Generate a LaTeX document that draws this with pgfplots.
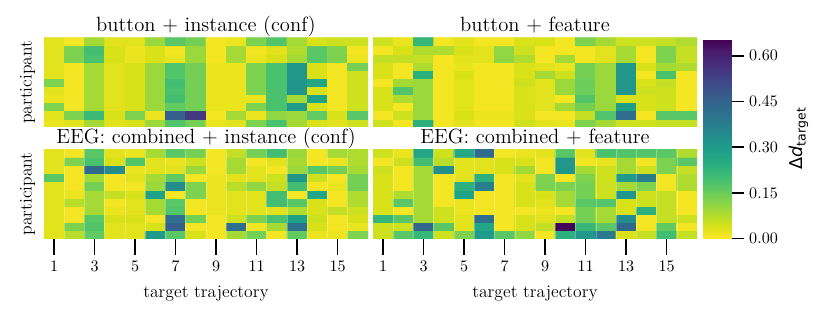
\documentclass[border=0pt]{standalone}
\usepackage{fontspec}
\usepackage{pgfplots}
\pgfplotsset{compat=1.18}
\newfontfamily\djv{DejaVu Sans}
\pgfplotsset{
 colormap={viridisr}{rgb255=(253,231,37) rgb255=(216,226,25) rgb255=(173,220,48) rgb255=(132,212,75) rgb255=(94,201,98) rgb255=(63,188,115) rgb255=(40,174,128) rgb255=(31,160,136) rgb255=(33,145,140) rgb255=(39,128,142) rgb255=(44,114,142) rgb255=(51,99,141) rgb255=(59,82,139) rgb255=(66,64,134) rgb255=(71,45,123) rgb255=(72,27,109) rgb255=(68,1,84)},
 hm/.style={
   scale only axis, width=220.32pt, height=60.7pt,
   xmin=0.5, xmax=16.5, ymin=0.5, ymax=11.5,
   axis line style={draw=none},
   xtick=\empty, ytick=\empty,
   minor xtick={1.5,2.5,...,15.5}, minor ytick={1.5,2.5,...,10.5},
   xminorgrids, yminorgrids, minor tick length=0pt,
   minor grid style={white, opacity=0.3, line width=0.35pt},
   axis on top,
   colormap name=viridisr, point meta min=0, point meta max=0.655,
   every axis title/.style={at={(0.5,1)}, anchor=base, yshift=4.1pt, font=\fontsize{14}{16}\selectfont},
   ylabel={participant},
   ylabel style={font=\fontsize{12}{14}\selectfont, at={(axis description cs:-0.0504,0.5)}, anchor=center},
   tick style={black, line width=1.15pt},
   major tick length=11pt,
   tick align=outside,
   tick label style={font=\fontsize{11}{13}\selectfont},
 },
 hmb/.style={xtick={1,3,...,15}, xtick pos=left,
   xticklabel shift=1pt,
   xlabel={target trajectory},
   xlabel style={font=\fontsize{12}{14}\selectfont, at={(axis description cs:0.5,0)}, anchor=center, yshift=-37.5pt}},
}
\begin{document}
\begin{tikzpicture}
% ---------- button + instance (conf) ----------
\begin{axis}[hm, at={(29.92pt,130.56pt)}, anchor=south west, title={button + instance (conf)}]
\addplot[matrix plot*, mesh/cols=16, point meta=explicit] coordinates {
(1,1)[0.02] (2,1)[0.03] (3,1)[0.09] (4,1)[0.03] (5,1)[0.04] (6,1)[0.10] (7,1)[0.18] (8,1)[0.14] (9,1)[0.02] (10,1)[0.03] (11,1)[0.13] (12,1)[0.19] (13,1)[0.09] (14,1)[0.04] (15,1)[0.03] (16,1)[0.05]
(1,2)[0.03] (2,2)[0.13] (3,2)[0.21] (4,2)[0.04] (5,2)[0.13] (6,2)[0.02] (7,2)[0.46] (8,2)[0.55] (9,2)[0.01] (10,2)[0.09] (11,2)[0.02] (12,2)[0.11] (13,2)[0.10] (14,2)[0.16] (15,2)[0.04] (16,2)[0.17]
(1,3)[0.13] (2,3)[0.01] (3,3)[0.09] (4,3)[0.03] (5,3)[0.04] (6,3)[0.10] (7,3)[0.16] (8,3)[0.14] (9,3)[0.02] (10,3)[0.02] (11,3)[0.13] (12,3)[0.19] (13,3)[0.30] (14,3)[0.04] (15,3)[0.01] (16,3)[0.05]
(1,4)[0.02] (2,4)[0.01] (3,4)[0.09] (4,4)[0.03] (5,4)[0.04] (6,4)[0.10] (7,4)[0.20] (8,4)[0.14] (9,4)[0.02] (10,4)[0.02] (11,4)[0.02] (12,4)[0.19] (13,4)[0.09] (14,4)[0.28] (15,4)[0.01] (16,4)[0.05]
(1,5)[0.03] (2,5)[0.01] (3,5)[0.09] (4,5)[0.03] (5,5)[0.04] (6,5)[0.10] (7,5)[0.19] (8,5)[0.14] (9,5)[0.02] (10,5)[0.02] (11,5)[0.13] (12,5)[0.19] (13,5)[0.32] (14,5)[0.04] (15,5)[0.01] (16,5)[0.05]
(1,6)[0.13] (2,6)[0.01] (3,6)[0.09] (4,6)[0.03] (5,6)[0.04] (6,6)[0.10] (7,6)[0.20] (8,6)[0.14] (9,6)[0.02] (10,6)[0.02] (11,6)[0.13] (12,6)[0.19] (13,6)[0.32] (14,6)[0.27] (15,6)[0.01] (16,6)[0.05]
(1,7)[0.03] (2,7)[0.01] (3,7)[0.09] (4,7)[0.03] (5,7)[0.04] (6,7)[0.10] (7,7)[0.18] (8,7)[0.14] (9,7)[0.02] (10,7)[0.02] (11,7)[0.13] (12,7)[0.19] (13,7)[0.31] (14,7)[0.04] (15,7)[0.01] (16,7)[0.05]
(1,8)[0.03] (2,8)[0.01] (3,8)[0.09] (4,8)[0.03] (5,8)[0.04] (6,8)[0.10] (7,8)[0.18] (8,8)[0.14] (9,8)[0.02] (10,8)[0.02] (11,8)[0.13] (12,8)[0.19] (13,8)[0.31] (14,8)[0.04] (15,8)[0.01] (16,8)[0.14]
(1,9)[0.03] (2,9)[0.13] (3,9)[0.19] (4,9)[0.04] (5,9)[0.02] (6,9)[0.04] (7,9)[0.02] (8,9)[0.10] (9,9)[0.01] (10,9)[0.09] (11,9)[0.02] (12,9)[0.04] (13,9)[0.09] (14,9)[0.17] (15,9)[0.13] (16,9)[0.02]
(1,10)[0.03] (2,10)[0.13] (3,10)[0.20] (4,10)[0.04] (5,10)[0.02] (6,10)[0.04] (7,10)[0.01] (8,10)[0.10] (9,10)[0.01] (10,10)[0.09] (11,10)[0.01] (12,10)[0.03] (13,10)[0.08] (14,10)[0.17] (15,10)[0.13] (16,10)[0.01]
(1,11)[0.03] (2,11)[0.01] (3,11)[0.09] (4,11)[0.03] (5,11)[0.03] (6,11)[0.10] (7,11)[0.17] (8,11)[0.14] (9,11)[0.01] (10,11)[0.02] (11,11)[0.13] (12,11)[0.18] (13,11)[0.09] (14,11)[0.04] (15,11)[0.05] (16,11)[0.05]
};
\end{axis}
% ---------- button + feature ----------
\begin{axis}[hm, at={(253.64pt,130.56pt)}, anchor=south west, title={button + feature}, ylabel={}]
\addplot[matrix plot*, mesh/cols=16, point meta=explicit] coordinates {
(1,1)[0.05] (2,1)[0.01] (3,1)[0.24] (4,1)[0.01] (5,1)[0.03] (6,1)[0.01] (7,1)[0.01] (8,1)[0.05] (9,1)[0.03] (10,1)[0.02] (11,1)[0.13] (12,1)[0.09] (13,1)[0.05] (14,1)[0.05] (15,1)[0.06] (16,1)[0.06]
(1,2)[0.01] (2,2)[0.05] (3,2)[0.10] (4,2)[0.01] (5,2)[0.04] (6,2)[0.02] (7,2)[0.02] (8,2)[0.04] (9,2)[0.01] (10,2)[0.01] (11,2)[0.06] (12,2)[0.18] (13,2)[0.42] (14,2)[0.01] (15,2)[0.17] (16,2)[0.17]
(1,3)[0.04] (2,3)[0.01] (3,3)[0.10] (4,3)[0.01] (5,3)[0.03] (6,3)[0.01] (7,3)[0.01] (8,3)[0.04] (9,3)[0.03] (10,3)[0.09] (11,3)[0.14] (12,3)[0.10] (13,3)[0.29] (14,3)[0.04] (15,3)[0.05] (16,3)[0.01]
(1,4)[0.04] (2,4)[0.08] (3,4)[0.10] (4,4)[0.01] (5,4)[0.03] (6,4)[0.01] (7,4)[0.01] (8,4)[0.04] (9,4)[0.03] (10,4)[0.01] (11,4)[0.18] (12,4)[0.10] (13,4)[0.04] (14,4)[0.04] (15,4)[0.05] (16,4)[0.01]
(1,5)[0.04] (2,5)[0.18] (3,5)[0.10] (4,5)[0.01] (5,5)[0.03] (6,5)[0.01] (7,5)[0.01] (8,5)[0.04] (9,5)[0.03] (10,5)[0.10] (11,5)[0.15] (12,5)[0.10] (13,5)[0.31] (14,5)[0.05] (15,5)[0.05] (16,5)[0.01]
(1,6)[0.01] (2,6)[0.09] (3,6)[0.10] (4,6)[0.01] (5,6)[0.03] (6,6)[0.01] (7,6)[0.01] (8,6)[0.05] (9,6)[0.03] (10,6)[0.10] (11,6)[0.15] (12,6)[0.10] (13,6)[0.31] (14,6)[0.04] (15,6)[0.06] (16,6)[0.01]
(1,7)[0.04] (2,7)[0.01] (3,7)[0.24] (4,7)[0.01] (5,7)[0.04] (6,7)[0.01] (7,7)[0.01] (8,7)[0.04] (9,7)[0.09] (10,7)[0.05] (11,7)[0.14] (12,7)[0.10] (13,7)[0.31] (14,7)[0.01] (15,7)[0.19] (16,7)[0.01]
(1,8)[0.04] (2,8)[0.01] (3,8)[0.08] (4,8)[0.01] (5,8)[0.02] (6,8)[0.01] (7,8)[0.01] (8,8)[0.04] (9,8)[0.03] (10,8)[0.02] (11,8)[0.14] (12,8)[0.10] (13,8)[0.31] (14,8)[0.04] (15,8)[0.09] (16,8)[0.08]
(1,9)[0.06] (2,9)[0.06] (3,9)[0.06] (4,9)[0.01] (5,9)[0.03] (6,9)[0.03] (7,9)[0.11] (8,9)[0.08] (9,9)[0.01] (10,9)[0.09] (11,9)[0.01] (12,9)[0.03] (13,9)[0.09] (14,9)[0.01] (15,9)[0.13] (16,9)[0.06]
(1,10)[0.01] (2,10)[0.04] (3,10)[0.08] (4,10)[0.08] (5,10)[0.04] (6,10)[0.03] (7,10)[0.11] (8,10)[0.05] (9,10)[0.01] (10,10)[0.01] (11,10)[0.01] (12,10)[0.03] (13,10)[0.09] (14,10)[0.01] (15,10)[0.13] (16,10)[0.06]
(1,11)[0.05] (2,11)[0.02] (3,11)[0.22] (4,11)[0.01] (5,11)[0.03] (6,11)[0.01] (7,11)[0.01] (8,11)[0.04] (9,11)[0.04] (10,11)[0.01] (11,11)[0.13] (12,11)[0.09] (13,11)[0.05] (14,11)[0.05] (15,11)[0.06] (16,11)[0.08]
};
\end{axis}
% ---------- EEG: combined + instance (conf) ----------
\begin{axis}[hm, hmb, at={(29.92pt,54.74pt)}, anchor=south west, title={EEG: combined + instance (conf)}]
\addplot[matrix plot*, mesh/cols=16, point meta=explicit] coordinates {
(1,1)[0.03] (2,1)[0.07] (3,1)[0.16] (4,1)[0.03] (5,1)[0.03] (6,1)[0.30] (7,1)[0.17] (8,1)[0.04] (9,1)[0.01] (10,1)[0.09] (11,1)[0.14] (12,1)[0.01] (13,1)[0.16] (14,1)[0.02] (15,1)[0.02] (16,1)[0.13]
(1,2)[0.03] (2,2)[0.13] (3,2)[0.18] (4,2)[0.03] (5,2)[0.03] (6,2)[0.04] (7,2)[0.46] (8,2)[0.01] (9,2)[0.01] (10,2)[0.42] (11,2)[0.01] (12,2)[0.09] (13,2)[0.41] (14,2)[0.04] (15,2)[0.01] (16,2)[0.02]
(1,3)[0.03] (2,3)[0.01] (3,3)[0.17] (4,3)[0.04] (5,3)[0.04] (6,3)[0.01] (7,3)[0.42] (8,3)[0.14] (9,3)[0.01] (10,3)[0.05] (11,3)[0.13] (12,3)[0.19] (13,3)[0.28] (14,3)[0.05] (15,3)[0.01] (16,3)[0.04]
(1,4)[0.03] (2,4)[0.01] (3,4)[0.09] (4,4)[0.02] (5,4)[0.03] (6,4)[0.09] (7,4)[0.18] (8,4)[0.01] (9,4)[0.02] (10,4)[0.03] (11,4)[0.03] (12,4)[0.03] (13,4)[0.08] (14,4)[0.04] (15,4)[0.06] (16,4)[0.05]
(1,5)[0.03] (2,5)[0.07] (3,5)[0.09] (4,5)[0.01] (5,5)[0.03] (6,5)[0.09] (7,5)[0.17] (8,5)[0.01] (9,5)[0.02] (10,5)[0.03] (11,5)[0.03] (12,5)[0.20] (13,5)[0.17] (14,5)[0.04] (15,5)[0.01] (16,5)[0.08]
(1,6)[0.03] (2,6)[0.02] (3,6)[0.09] (4,6)[0.06] (5,6)[0.04] (6,6)[0.28] (7,6)[0.01] (8,6)[0.13] (9,6)[0.02] (10,6)[0.03] (11,6)[0.03] (12,6)[0.20] (13,6)[0.01] (14,6)[0.27] (15,6)[0.01] (16,6)[0.08]
(1,7)[0.03] (2,7)[0.01] (3,7)[0.14] (4,7)[0.01] (5,7)[0.01] (6,7)[0.10] (7,7)[0.34] (8,7)[0.13] (9,7)[0.02] (10,7)[0.07] (11,7)[0.11] (12,7)[0.06] (13,7)[0.20] (14,7)[0.01] (15,7)[0.02] (16,7)[0.14]
(1,8)[0.17] (2,8)[0.01] (3,8)[0.09] (4,8)[0.01] (5,8)[0.03] (6,8)[0.09] (7,8)[0.16] (8,8)[0.01] (9,8)[0.02] (10,8)[0.03] (11,8)[0.03] (12,8)[0.05] (13,8)[0.31] (14,8)[0.05] (15,8)[0.01] (16,8)[0.14]
(1,9)[0.03] (2,9)[0.01] (3,9)[0.43] (4,9)[0.34] (5,9)[0.02] (6,9)[0.03] (7,9)[0.03] (8,9)[0.10] (9,9)[0.01] (10,9)[0.09] (11,9)[0.03] (12,9)[0.01] (13,9)[0.10] (14,9)[0.17] (15,9)[0.14] (16,9)[0.09]
(1,10)[0.03] (2,10)[0.13] (3,10)[0.19] (4,10)[0.04] (5,10)[0.18] (6,10)[0.03] (7,10)[0.02] (8,10)[0.05] (9,10)[0.01] (10,10)[0.09] (11,10)[0.01] (12,10)[0.03] (13,10)[0.09] (14,10)[0.01] (15,10)[0.02] (16,10)[0.08]
(1,11)[0.03] (2,11)[0.01] (3,11)[0.17] (4,11)[0.03] (5,11)[0.02] (6,11)[0.09] (7,11)[0.17] (8,11)[0.14] (9,11)[0.01] (10,11)[0.06] (11,11)[0.14] (12,11)[0.20] (13,11)[0.10] (14,11)[0.01] (15,11)[0.09] (16,11)[0.08]
};
\end{axis}
% ---------- EEG: combined + feature ----------
\begin{axis}[hm, hmb, at={(253.64pt,54.74pt)}, anchor=south west, title={EEG: combined + feature}, ylabel={},
  colorbar, colorbar/width=19.04pt,
  colorbar style={
    at={(parent axis.south east)}, anchor=south west, xshift=-4.1pt,
    scale only axis, width=19.04pt, height=135.66pt,
    axis line style={draw=none},
    ytick={0,0.15,0.30,0.45,0.60}, ytick pos=right,
    minor xtick={}, minor ytick={}, xminorgrids=false, yminorgrids=false,
    yticklabel style={/pgf/number format/.cd, fixed, fixed zerofill, precision=2, /tikz/.cd, font=\fontsize{11}{13}\selectfont},
    major tick length=8.5pt, tick style={black, line width=1.15pt}, tick align=outside,
    ylabel={{\djv\fontsize{12}{14}\selectfont Δ\textit{d}\raisebox{-0.35ex}{\fontsize{8.5}{10}\selectfont target}}},
    ylabel style={at={(axis description cs:3.39,0.5)}, anchor=center},
  }]
\addplot[matrix plot*, mesh/cols=16, point meta=explicit] coordinates {
(1,1)[0.05] (2,1)[0.17] (3,1)[0.22] (4,1)[0.05] (5,1)[0.13] (6,1)[0.30] (7,1)[0.17] (8,1)[0.11] (9,1)[0.01] (10,1)[0.24] (11,1)[0.31] (12,1)[0.39] (13,1)[0.04] (14,1)[0.06] (15,1)[0.20] (16,1)[0.06]
(1,2)[0.05] (2,2)[0.05] (3,2)[0.44] (4,2)[0.17] (5,2)[0.03] (6,2)[0.27] (7,2)[0.01] (8,2)[0.04] (9,2)[0.06] (10,2)[0.65] (11,2)[0.22] (12,2)[0.17] (13,2)[0.44] (14,2)[0.01] (15,2)[0.16] (16,2)[0.01]
(1,3)[0.22] (2,3)[0.17] (3,3)[0.09] (4,3)[0.05] (5,3)[0.03] (6,3)[0.42] (7,3)[0.01] (8,3)[0.04] (9,3)[0.03] (10,3)[0.06] (11,3)[0.14] (12,3)[0.09] (13,3)[0.34] (14,3)[0.01] (15,3)[0.06] (16,3)[0.05]
(1,4)[0.04] (2,4)[0.01] (3,4)[0.09] (4,4)[0.05] (5,4)[0.02] (6,4)[0.01] (7,4)[0.01] (8,4)[0.01] (9,4)[0.02] (10,4)[0.01] (11,4)[0.14] (12,4)[0.09] (13,4)[0.04] (14,4)[0.24] (15,4)[0.06] (16,4)[0.01]
(1,5)[0.04] (2,5)[0.17] (3,5)[0.09] (4,5)[0.01] (5,5)[0.02] (6,5)[0.01] (7,5)[0.01] (8,5)[0.04] (9,5)[0.03] (10,5)[0.09] (11,5)[0.17] (12,5)[0.18] (13,5)[0.04] (14,5)[0.05] (15,5)[0.06] (16,5)[0.01]
(1,6)[0.04] (2,6)[0.08] (3,6)[0.09] (4,6)[0.01] (5,6)[0.28] (6,6)[0.01] (7,6)[0.01] (8,6)[0.04] (9,6)[0.04] (10,6)[0.09] (11,6)[0.14] (12,6)[0.05] (13,6)[0.31] (14,6)[0.05] (15,6)[0.06] (16,6)[0.01]
(1,7)[0.04] (2,7)[0.01] (3,7)[0.09] (4,7)[0.01] (5,7)[0.24] (6,7)[0.37] (7,7)[0.01] (8,7)[0.04] (9,7)[0.13] (10,7)[0.13] (11,7)[0.14] (12,7)[0.05] (13,7)[0.09] (14,7)[0.13] (15,7)[0.01] (16,7)[0.08]
(1,8)[0.04] (2,8)[0.01] (3,8)[0.09] (4,8)[0.01] (5,8)[0.03] (6,8)[0.24] (7,8)[0.01] (8,8)[0.03] (9,8)[0.13] (10,8)[0.01] (11,8)[0.13] (12,8)[0.05] (13,8)[0.30] (14,8)[0.37] (15,8)[0.01] (16,8)[0.08]
(1,9)[0.05] (2,9)[0.01] (3,9)[0.09] (4,9)[0.33] (5,9)[0.03] (6,9)[0.03] (7,9)[0.04] (8,9)[0.09] (9,9)[0.01] (10,9)[0.31] (11,9)[0.09] (12,9)[0.05] (13,9)[0.09] (14,9)[0.05] (15,9)[0.13] (16,9)[0.06]
(1,10)[0.01] (2,10)[0.05] (3,10)[0.20] (4,10)[0.07] (5,10)[0.03] (6,10)[0.03] (7,10)[0.04] (8,10)[0.04] (9,10)[0.01] (10,10)[0.31] (11,10)[0.01] (12,10)[0.02] (13,10)[0.09] (14,10)[0.01] (15,10)[0.13] (16,10)[0.17]
(1,11)[0.05] (2,11)[0.02] (3,11)[0.27] (4,11)[0.05] (5,11)[0.26] (6,11)[0.43] (7,11)[0.01] (8,11)[0.02] (9,11)[0.03] (10,11)[0.17] (11,11)[0.03] (12,11)[0.19] (13,11)[0.18] (14,11)[0.18] (15,11)[0.17] (16,11)[0.08]
};
\end{axis}
\pgfresetboundingbox
\path[use as bounding box] (0,0) rectangle (564.4pt,216.92pt);
\end{tikzpicture}
\end{document}
